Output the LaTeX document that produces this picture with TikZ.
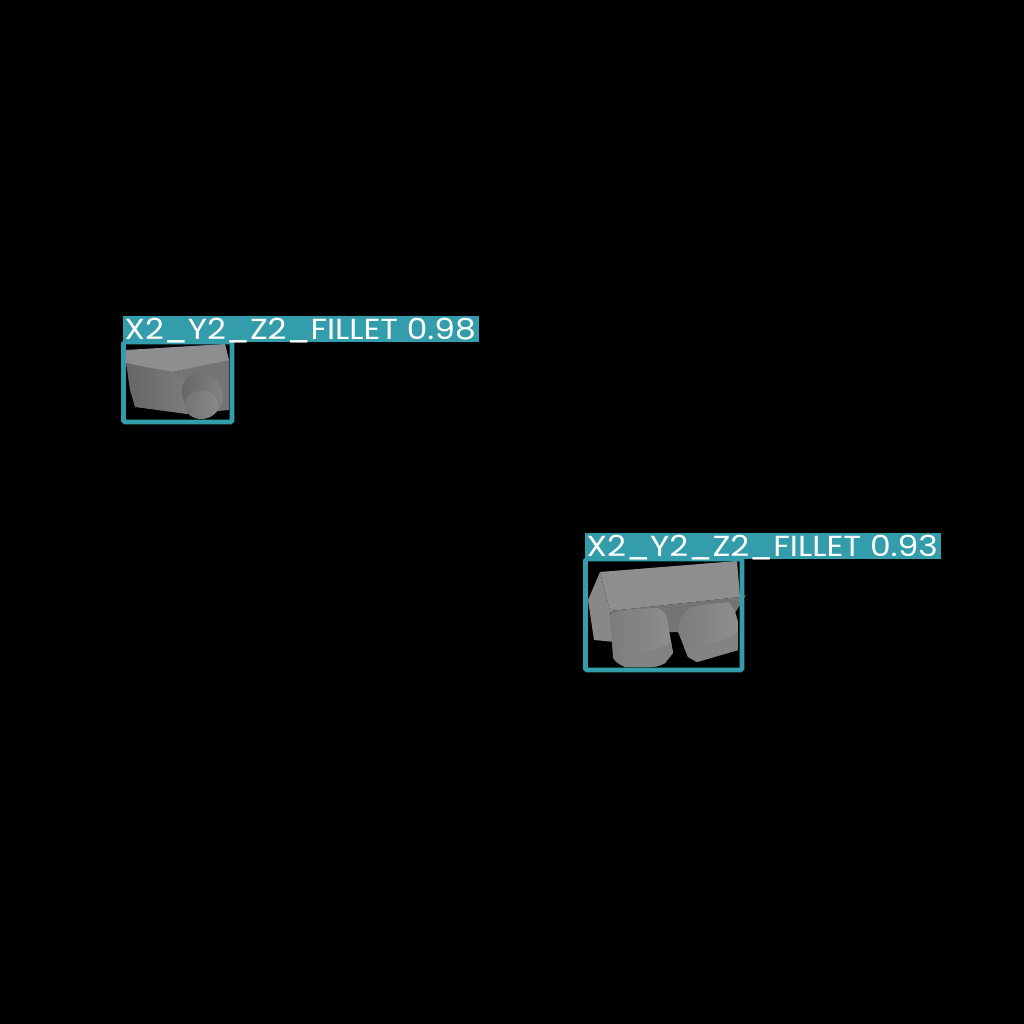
\documentclass[tikz,border=0pt]{standalone}
\usepackage{fontspec}
\setmainfont{Poppins}
\usepackage{graphicx}
\definecolor{teal1}{RGB}{52,157,171}
\definecolor{g1}{RGB}{142,142,142}
\definecolor{g2}{RGB}{130,130,130}
\definecolor{g3}{RGB}{116,116,116}
\definecolor{g4}{RGB}{102,102,102}
\definecolor{g5}{RGB}{136,136,136}
\definecolor{g6}{RGB}{124,124,124}
\tikzset{
 boxr/.style={draw=teal1,line width=4.6pt,rounded corners=1.5pt},
 lab/.style={fill=teal1,draw=none,inner sep=0pt,anchor=south west,minimum height=26pt,minimum width=356pt},
 labt/.style={inner sep=0pt,text=white,anchor=base west},
}
\newcommand{\labtext}[1]{\resizebox*{351pt}{\totalheight}{\fontsize{29}{29}\selectfont #1}}
\begin{document}
\begin{tikzpicture}[x=1pt,y=-1pt]
\fill[black] (0,0) rectangle (1024,1024);
\useasboundingbox (0,0) rectangle (1024,1024);
% object 1
\fill[g3] (172,372) -- (229,359) -- (229,410) -- (185,414) -- (180,395) -- cycle;
\shade[left color=g4,right color=g6] (126,362) -- (172,372) -- (187,382) -- (187,414) -- (135,407) -- (130,390) -- cycle;
\fill[g1] (126,350) -- (225,344) -- (229,360) -- (172,372) -- (126,363) -- cycle;
\shade[left color=g4,right color=g2] (182,388) .. controls (184,378) and (192,372) .. (201,372) .. controls (213,372) and (222,384) .. (223,397) .. controls (223,408) and (215,418) .. (200,418) .. controls (190,416) and (181,402) .. (182,388) -- cycle;
\shade[left color=g3,right color=g5] (185,405) .. controls (185,396) and (192,391) .. (201,391) .. controls (211,391) and (218,397) .. (218,405) .. controls (218,414) and (210,419) .. (201,419) .. controls (193,419) and (185,414) .. (185,405) -- cycle;
% object 2
\fill[g3] (610,611) -- (740,597) -- (746,595) -- (735,613) -- (735,625) -- (680,632) -- (672,632) -- (615,635) -- cycle;
\fill[g5] (600,572) -- (610,611) -- (615,642) -- (594,640) -- (588,600) -- cycle;
\fill[g1] (600,572) -- (737,561) -- (740,597) -- (610,611) -- cycle;
% right cylinder
\shade[left color=g6,right color=g1] (685,612) .. controls (690,607) and (696,606) .. (702,605) -- (728,602) .. controls (733,606) and (736,613) .. (738,622) -- (738,650) -- (697,662) -- (688,657) -- (678,632) .. controls (678,624) and (681,616) .. (685,612) -- cycle;
\fill[g2] (684,647) .. controls (700,648) and (725,642) .. (738,632) -- (738,650) -- (697,662) -- (688,657) -- cycle;
% left cylinder
\shade[left color=g6,right color=g1] (610,615) .. controls (618,610) and (628,609) .. (635,609) -- (658,608) .. controls (663,610) and (666,614) .. (667,618) -- (673,653) -- (665,663) .. controls (660,666) and (655,667) .. (650,667) -- (625,667) .. controls (620,665) and (615,662) .. (613,658) -- cycle;
\fill[g2] (620,653) .. controls (640,655) and (660,650) .. (671,642) -- (673,653) -- (665,663) .. controls (660,666) and (655,667) .. (650,667) -- (625,667) .. controls (622,665) and (620,660) .. (620,653) -- cycle;
% boxes
\draw[boxr] (123.5,342) rectangle (232,422);
\draw[boxr] (585.5,559) rectangle (742,670);
\node[lab] (l1) at (123,342) {};
\node[lab] (l2) at (585,559) {};
\node[labt] (t1) at (124.5,339.5) {\labtext{X2\_Y2\_Z2\_FILLET 0.98}};
\node[labt] (t2) at (586.5,556.5) {\labtext{X2\_Y2\_Z2\_FILLET 0.93}};
\end{tikzpicture}
\end{document}
